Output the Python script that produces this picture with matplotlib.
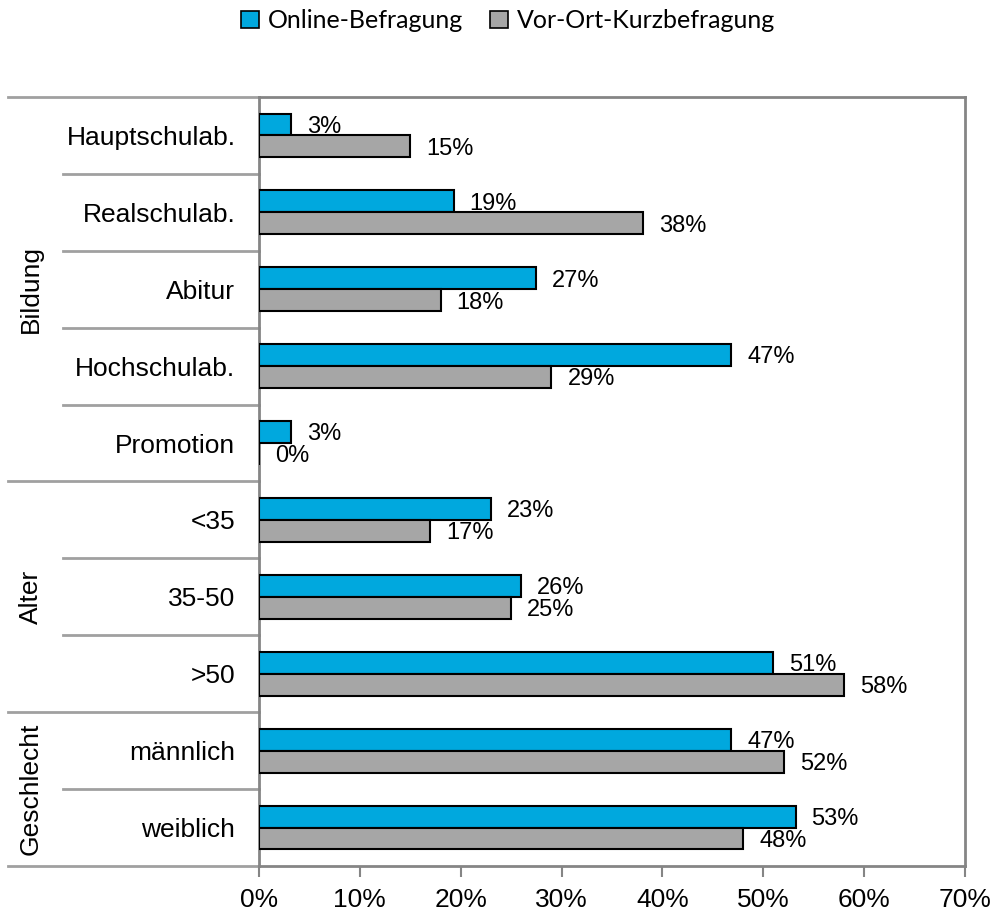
import matplotlib
matplotlib.use("Agg")
import matplotlib.pyplot as plt
import matplotlib.transforms as mtransforms
from matplotlib.patches import Patch
import numpy as np

plt.rcParams['font.family'] = ['Liberation Sans', 'DejaVu Sans']

categories = ["Hauptschulab.", "Realschulab.", "Abitur", "Hochschulab.", "Promotion",
              "<35", "35-50", ">50", "männlich", "weiblich"]
online = [3.2, 19.3, 27.5, 46.8, 3.2, 23.0, 26.0, 51.0, 46.8, 53.2]
vorort = [15.0, 38.1, 18.0, 29.0, 0.0, 17.0, 25.0, 58.0, 52.1, 48.0]
online_labels = ["3%", "19%", "27%", "47%", "3%", "23%", "26%", "51%", "47%", "53%"]
vorort_labels = ["15%", "38%", "18%", "29%", "0%", "17%", "25%", "58%", "52%", "48%"]
groups = ["Bildung", "Alter", "Geschlecht"]
group_spans = [(0, 4), (5, 7), (8, 9)]
series_names = ["Online-Befragung", "Vor-Ort-Kurzbefragung"]
xticks = [0, 10, 20, 30, 40, 50, 60, 70]
xtick_labels = ["0%", "10%", "20%", "30%", "40%", "50%", "60%", "70%"]

blue = "#00A8DE"
grey = "#A6A6A6"
frame = "#858585"
sep = "#A0A0A0"

W, H = 994, 913
fig = plt.figure(figsize=(W / 100, H / 100), dpi=100)
L, R, T, B = 259, 965, 97, 866
ax = fig.add_axes([L / W, 1 - B / H, (R - L) / W, (B - T) / H])

y = np.arange(len(categories))
h = 0.285
ax.barh(y - h / 2, online, height=h, color=blue, edgecolor="black", linewidth=1.5, zorder=3)
ax.barh(y + h / 2, vorort, height=h, color=grey, edgecolor="black", linewidth=1.5, zorder=3)

for yi, v, s in zip(y, online, online_labels):
    ax.annotate(s, (v, yi - h / 2 + 0.03), xytext=(16, 0), textcoords="offset pixels",
                ha="left", va="center", fontsize=17)
for yi, v, s in zip(y, vorort, vorort_labels):
    ax.annotate(s, (v, yi + h / 2 + 0.03), xytext=(16, 0), textcoords="offset pixels",
                ha="left", va="center", fontsize=17)

ax.set_xlim(0, 70)
ax.set_ylim(len(categories) - 0.5, -0.5)
ax.set_xticks(xticks)
ax.set_xticklabels(xtick_labels, fontsize=19)
ax.set_yticks(y)
ax.set_yticklabels(categories, fontsize=19)
ax.tick_params(axis="y", length=0, pad=17)
ax.tick_params(axis="x", length=8, width=1.5, color=frame, pad=8)
for sp in ax.spines.values():
    sp.set_color(frame)
    sp.set_linewidth(2)

# separators
trans = mtransforms.blended_transform_factory(ax.transAxes, ax.transData)
inner_x = (63 - L) / (R - L)
outer_x = (8 - L) / (R - L)
group_bounds = [-0.5, 4.5, 7.5, 9.5]
for b in np.arange(-0.5, len(categories), 1.0):
    x0 = outer_x if any(abs(b - g) < 1e-6 for g in group_bounds) else inner_x
    ax.plot([x0, 0], [b, b], transform=trans, color=sep, lw=2, clip_on=False, zorder=1)

gx = (31 - L) / (R - L)
for name, (a, b) in zip(groups, group_spans):
    ax.text(gx, (a + b) / 2, name, transform=trans, rotation=90, ha="center", va="center",
            fontsize=19)

handles = [Patch(facecolor=blue, edgecolor="black", linewidth=1.2),
           Patch(facecolor=grey, edgecolor="black", linewidth=1.2)]
fig.legend(handles, series_names, loc="center", bbox_to_anchor=(508 / W, 1 - 21 / H), ncol=2,
           frameon=False, handlelength=0.7, handleheight=0.7, handletextpad=0.35,
           columnspacing=1.1, borderpad=0, borderaxespad=0,
           prop={"family": ["Lato", "DejaVu Sans"], "size": 18})

fig.savefig("out.png", dpi=100)
